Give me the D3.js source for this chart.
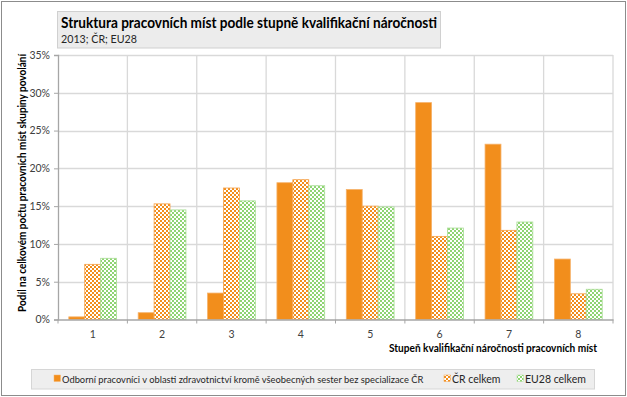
<!DOCTYPE html>
<html>
<head>
<meta charset="utf-8">
<script src="https://cdn.jsdelivr.net/npm/d3@7"></script>
<style>
  body { margin: 0; background: #fff; }
  text { font-family: Lato, "Open Sans", sans-serif; fill: #262626; }
</style>
</head>
<body>
<svg id="chart" width="627" height="397"></svg>
<script>
// data
const categories = ['1', '2', '3', '4', '5', '6', '7', '8'];
const seriesNames = [
    'Odborní pracovníci v oblasti zdravotnictví kromě všeobecných sester bez specializace ČR',
    'ČR celkem',
    'EU28 celkem'
];
const healthValues = [0.35, 0.9, 3.5, 18.1, 17.2, 28.7, 23.2, 8.0];
const czValues = [7.3, 15.3, 17.4, 18.5, 15.0, 11.0, 11.8, 3.4];
const euValues = [8.1, 14.5, 15.7, 17.7, 14.9, 12.1, 12.9, 4.0];
const yTicks = [0, 5, 10, 15, 20, 25, 30, 35];

const orange = '#f28e1c';
const green = '#8ed473';

const svg = d3.select('#chart');
const margin = { left: 58, right: 14, top: 55, bottom: 77.5 };
const W = 627, H = 397;

// outer frame
svg.append('rect').attr('x', 1.5).attr('y', 1.5).attr('width', W - 3).attr('height', H - 3)
    .attr('fill', '#fff').attr('stroke', '#8c8c8c');

// patterns (checkerboard like Excel)
const defs = svg.append('defs');
function checker(id, color) {
    const p = defs.append('pattern').attr('id', id).attr('patternUnits', 'userSpaceOnUse')
        .attr('width', 4).attr('height', 4);
    p.append('rect').attr('width', 4).attr('height', 4).attr('fill', '#fff');
    p.append('rect').attr('width', 2).attr('height', 2).attr('fill', color);
    p.append('rect').attr('x', 2).attr('y', 2).attr('width', 2).attr('height', 2).attr('fill', color);
}
checker('patOrange', orange);
checker('patGreen', green);

const fills = [orange, 'url(#patOrange)', 'url(#patGreen)'];
const strokes = ['#f6b26a', '#f5a24a', '#a9dd95'];

const x = d3.scaleBand().domain(categories).range([margin.left, W - margin.right]);
const xs = d3.scaleBand().domain([0, 1, 2])
    .range([10.8, x.bandwidth() - 10.8]);
const y = d3.scaleLinear().domain([0, 35]).range([H - margin.bottom, margin.top]);

// gridlines
const grid = svg.append('g');
grid.selectAll('.hg').data(yTicks.slice(1)).enter().append('line')
    .attr('x1', margin.left).attr('x2', W - margin.right)
    .attr('y1', d => Math.round(y(d)) + 0.5).attr('y2', d => Math.round(y(d)) + 0.5)
    .attr('stroke', '#d9d9d9').attr('stroke-width', 1.3);
grid.selectAll('.vg').data(categories.slice(1).concat(['end'])).enter().append('line')
    .attr('x1', (d, i) => x(categories[0]) + x.bandwidth() * (i + 1))
    .attr('x2', (d, i) => x(categories[0]) + x.bandwidth() * (i + 1))
    .attr('y1', margin.top).attr('y2', H - margin.bottom)
    .attr('stroke', '#d9d9d9').attr('stroke-width', 1.3);

// bars
const series = [healthValues, czValues, euValues];
series.forEach((vals, si) => {
    svg.append('g').selectAll('rect').data(vals).enter().append('rect')
        .attr('x', (d, i) => x(categories[i]) + xs(si))
        .attr('y', d => y(d))
        .attr('width', xs.bandwidth())
        .attr('height', d => y(0) - y(d))
        .attr('fill', fills[si])
        .attr('stroke', strokes[si]).attr('stroke-width', 0.8);
});

// y axis
const yAxis = svg.append('g').attr('transform', `translate(${margin.left},0)`)
    .call(d3.axisLeft(y).tickValues(yTicks).tickFormat(d => d + '%').tickSizeOuter(0).tickSize(4));
yAxis.select('.domain').attr('stroke', '#a6a6a6').attr('stroke-width', 1.3);
yAxis.selectAll('.tick line').attr('stroke', '#a6a6a6');
yAxis.selectAll('.tick text').attr('x', -8).style('font-size', '10.5px').style('fill', '#404040');

// x axis
const xAxis = svg.append('g').attr('transform', `translate(0,${H - margin.bottom})`)
    .call(d3.axisBottom(x).tickSize(0).tickSizeOuter(0));
xAxis.select('.domain').attr('stroke', '#a6a6a6').attr('stroke-width', 1.5);
xAxis.selectAll('.tick text').attr('y', 11).style('font-size', '10.5px').style('fill', '#404040');
// category boundary ticks
xAxis.selectAll('.bt').data(d3.range(categories.length + 1)).enter().append('line')
    .attr('x1', i => margin.left + i * x.bandwidth()).attr('x2', i => margin.left + i * x.bandwidth())
    .attr('y1', 0).attr('y2', 4).attr('stroke', '#a6a6a6');

function fit(sel, width) {
    const len = sel.node().getComputedTextLength();
    if (Math.abs(len - width) > 2) sel.attr('textLength', width).attr('lengthAdjust', 'spacingAndGlyphs');
}
// shrink or grow the font so the text takes the given width
function fitSize(sel, width) {
    const len = sel.node().getComputedTextLength();
    const fs = parseFloat(sel.style('font-size'));
    sel.style('font-size', (fs * width / len).toFixed(2) + 'px');
}

// axis titles
fit(svg.append('text').attr('x', 597).attr('y', 352).attr('text-anchor', 'end')
    .style('font-size', '11.5px').style('font-weight', 'bold').style('fill', '#000')
    .text('Stupeň kvalifikační náročnosti pracovních míst'), 208);

fit(svg.append('text').attr('transform', 'translate(26,183) rotate(-90)').attr('text-anchor', 'middle')
    .style('font-size', '11.5px').style('font-weight', 'bold').style('fill', '#000')
    .text('Podíl na celkovém počtu pracovních míst skupiny povolání'), 258);

// title box
svg.append('rect').attr('x', 57.5).attr('y', 11.5).attr('width', 383).attr('height', 36.5)
    .attr('fill', '#ececec').attr('stroke', '#d0d0d0');
fit(svg.append('text').attr('x', 61).attr('y', 27.5).style('font-size', '15.5px').style('font-weight', 'bold')
    .style('fill', '#000')
    .text('Struktura pracovních míst podle stupně kvalifikační náročnosti'), 376);
fit(svg.append('text').attr('x', 61).attr('y', 43).style('font-size', '12px').style('fill', '#262626')
    .text('2013; ČR; EU28'), 76);

// legend
svg.append('rect').attr('x', 31.5).attr('y', 369.5).attr('width', 563).attr('height', 19.5)
    .attr('fill', '#eeeeee').attr('stroke', '#d6d6d6');
const legendX = [54, 444, 517];
seriesNames.forEach((name, i) => {
    svg.append('rect').attr('x', legendX[i]).attr('y', 375).attr('width', 6.5).attr('height', 6.5)
        .attr('fill', fills[i]).attr('stroke', strokes[i]).attr('stroke-width', 0.5);
    const t = svg.append('text').attr('x', legendX[i] + 8).attr('y', 382.5).style('font-size', '10.5px')
        .style('fill', '#262626').text(name);
    if (i === 0) fitSize(t, 362);
});
</script>
</body>
</html>
